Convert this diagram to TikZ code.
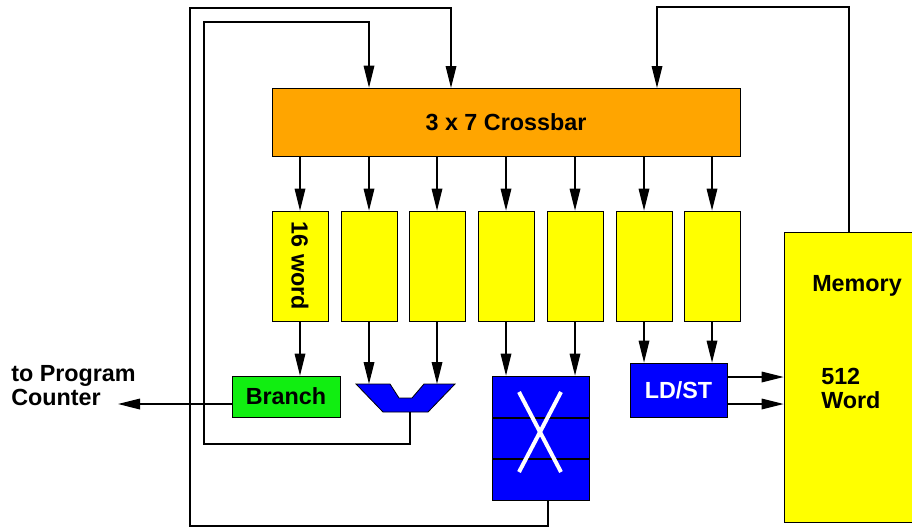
\documentclass[tikz,border=0pt]{standalone}
\usepackage{fontspec}
\setmainfont{Liberation Sans}
\usetikzlibrary{arrows.meta, positioning, calc}
\definecolor{XbarOrange}{HTML}{FFA500}
\definecolor{RegYellow}{HTML}{FFFF00}
\definecolor{UnitBlue}{HTML}{0000FF}
\definecolor{BranchGreen}{HTML}{11EE11}

\tikzset{
  lbl/.style={inner sep=0pt, font=\fontsize{17.5}{18}\selectfont\bfseries},
  box/.style={lbl, draw=black, line width=0.6pt},
  reg/.style={box, fill=RegYellow, minimum width=42pt, minimum height=82.5pt},
  wire/.style={line width=0.9pt},
  feed/.style={wire, -{Triangle[length=16.5pt, width=8pt]}}
}

\begin{document}
\begin{tikzpicture}[x=0.75pt, y=-0.75pt]
    \useasboundingbox (0,0) rectangle (912,529);

    % Crossbar
    \node[box, fill=XbarOrange, minimum width=351pt, minimum height=51pt] (cb) at (506,122) {3 x 7 Crossbar};

    % Register files
    \foreach \i/\x in {1/300, 2/369, 3/437, 4/506, 5/575, 6/644, 7/712} {
        \node[reg] (r\i) at (\x,266) {};
        \draw[feed] (cb.south -| r\i) -- (r\i.north);
    }
    \node[lbl, rotate=-90] (rname) at (r1) {16 word};

    % Memory
    \node[reg, minimum width=97.5pt, minimum height=217.5pt] (mem) at (849,377) {};
    \node[lbl, anchor=west] (memname) at (812,286) {Memory};
    \node[lbl, anchor=west, align=left] (memsize) at (821,388) {512\\Word};

    % Branch unit
    \node[box, fill=BranchGreen, minimum width=81pt, minimum height=30.75pt] (br) at (286,396.5) {Branch};
    \draw[feed] (r1.south) -- (r1.south |- br.north);
    \node[lbl, anchor=west, align=left] (pc) at (11,386) {to Program\\Counter};
    \coordinate (pcin) at (118,404);
    \draw[feed] (br.west |- pcin) -- (pcin);

    % ALU
    \draw[box, fill=UnitBlue] (356,384) -- (390,384) -- (399,398) -- (412,398) -- (424,384)
        -- (455,384) -- (428,412) -- (383,412) -- cycle;
    \coordinate (alutop) at (405,384);
    \coordinate (aluout) at (410,412);
    \draw[feed] (r2.south) -- (r2.south |- alutop);
    \draw[feed] (r3.south) -- (r3.south |- alutop);

    % Permute unit
    \node[box, fill=UnitBlue, minimum width=72.75pt, minimum height=93pt] (xu) at (540.5,438) {};
    \draw[wire] (492,418) -- (589,418) (492,459) -- (589,459);
    \draw[white, line width=3pt] (519,392) -- (561,472) (561,392) -- (519,472);
    \coordinate (xuout) at (548,500);
    \draw[feed] (r4.south) -- (r4.south |- xu.north);
    \draw[feed] (r5.south) -- (r5.south |- xu.north);

    % Load/store unit
    \node[box, fill=UnitBlue, text=white, minimum width=72.75pt, minimum height=40.5pt] (ls) at (678.5,390) {LD/ST};
    \draw[feed] (r6.south) -- (r6.south |- ls.north);
    \draw[feed] (r7.south) -- (r7.south |- ls.north);
    \coordinate (lsA) at ([yshift=9.75pt]ls.east);
    \coordinate (lsB) at ([yshift=-10.5pt]ls.east);
    \draw[feed] (lsA) -- (lsA -| mem.west);
    \draw[feed] (lsB) -- (lsB -| mem.west);

    % Feedback paths
    \draw[feed] (aluout) |- (204,444) -- (204,22) -| (cb.north -| r2);
    \draw[feed] (xuout) |- (190,526) -- (190,8) -| (451,88);
    \draw[feed] (mem.north) |- (657,7) -- (657,88);
\end{tikzpicture}
\end{document}
